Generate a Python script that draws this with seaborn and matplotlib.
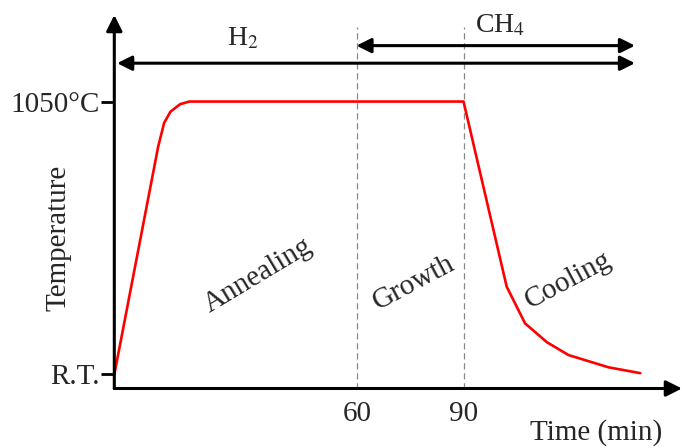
import matplotlib
matplotlib.use("Agg")
import matplotlib.pyplot as plt
import seaborn as sns
import pandas as pd

# ---- data ----
time_min = [-8.8, 3.6, 5.3, 7.1, 9.8, 12.4, 90.0, 102.2, 107.4, 113.6, 119.7, 131.0, 140.0]
temp_c = [25, 880, 970, 1012, 1040, 1050, 1050, 355, 217, 146, 98, 52, 30]
xtick_vals = [60, 90]
xtick_labels = ["60", "90"]
ytick_vals = [25, 1050]
ytick_labels = ["R.T.", "1050°C"]
phase_labels = ["Annealing", "Growth", "Cooling"]
phase_x = [31.8, 76.0, 119.6]
phase_y = [395, 369, 380]
phase_rot = [31, 28, 28]
h2_span = [-8.0, 138.5]
ch4_span = [59.7, 138.5]
h2_y = 1194
ch4_y = 1260

sns.set_theme(style="white")
plt.rcParams["font.family"] = ["Liberation Serif", "DejaVu Serif"]
plt.rcParams["mathtext.fontset"] = "stix"

FS = 21

df = pd.DataFrame({"Time": time_min, "Temp": temp_c})

fig = plt.figure(figsize=(6.82, 4.48), dpi=100)
ax = fig.add_axes([114.3 / 682, (448 - 388.5) / 448, (682 - 114.3) / 682, (388.5 - 15) / 448])

sns.lineplot(data=df, x="Time", y="Temp", ax=ax, color="#ff0000", lw=1.9, sort=False)

ax.set_xlim(-8.8, 151.8)
ax.set_ylim(-27.6, 1375)

for s in ax.spines.values():
    s.set_visible(False)

# axes with arrows
ax.annotate("", xy=(1, 0), xytext=(0, 0), xycoords="axes fraction", textcoords="axes fraction",
            arrowprops=dict(arrowstyle="-|>", lw=2.2, color="black", mutation_scale=24,
                            shrinkA=0, shrinkB=0))
ax.annotate("", xy=(0, 1), xytext=(0, 0), xycoords="axes fraction", textcoords="axes fraction",
            arrowprops=dict(arrowstyle="-|>", lw=2.2, color="black", mutation_scale=24,
                            shrinkA=0, shrinkB=0))

# gas arrows
ax.annotate("", xy=(h2_span[1], h2_y), xytext=(h2_span[0], h2_y),
            arrowprops=dict(arrowstyle="<|-|>", lw=2.2, color="black", mutation_scale=22,
                            shrinkA=0, shrinkB=0))
ax.annotate("", xy=(ch4_span[1], ch4_y), xytext=(ch4_span[0], ch4_y),
            arrowprops=dict(arrowstyle="<|-|>", lw=2.2, color="black", mutation_scale=22,
                            shrinkA=0, shrinkB=0))
ax.text(27.6, 1285, r"H$_2$", fontsize=20, ha="center", va="center")
ax.text(100.3, 1335, r"CH$_4$", fontsize=20, ha="center", va="center")

# dashed markers
for xv in xtick_vals:
    ax.plot([xv, xv], [-27.6, 1330], color="#888888", lw=0.9, ls=(0, (5, 3)), zorder=1)

# ticks
ax.set_xticks(xtick_vals)
ax.set_xticklabels(xtick_labels, fontsize=FS)
ax.set_yticks(ytick_vals)
ax.set_yticklabels(ytick_labels, fontsize=FS)
ax.tick_params(axis="x", length=0, pad=9)
ax.tick_params(axis="y", length=9.5, width=2.0, color="black", pad=1, left=True)

for lab, xx, yy, rot in zip(phase_labels, phase_x, phase_y, phase_rot):
    ax.text(xx, yy, lab, fontsize=FS, rotation=rot, ha="center", va="center",
            rotation_mode="anchor")

ax.set_xlabel("")
ax.set_ylabel("")
fig.text(662 / 682, 1 - 433 / 448, "Time (min)", fontsize=FS, ha="right", va="center")
fig.text(59 / 682, 1 - 238 / 448, "Temperature", fontsize=FS, rotation=90, ha="center", va="center")

fig.savefig("out.png", dpi=100)
